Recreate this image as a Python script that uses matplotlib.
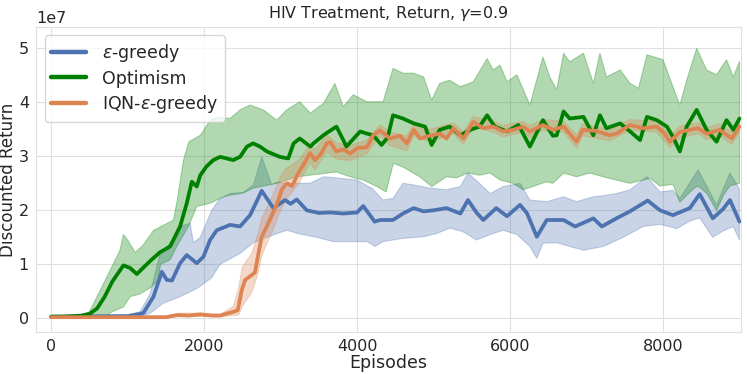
import numpy as np
import matplotlib
matplotlib.use("Agg")
import matplotlib.pyplot as plt
import seaborn as sns

# values are in units of 1e7
eg_x = [0, 1000, 1160, 1207, 1338, 1447, 1512, 1580, 1686, 1773, 1904, 1991, 2078, 2165,
        2340, 2470, 2601, 2753, 2906, 3058, 3130, 3211, 3342, 3500, 3650, 3820, 4000, 4080,
        4230, 4300, 4470, 4600, 4740, 4870, 5000, 5170, 5350, 5450, 5560, 5650, 5820, 5960,
        6130, 6220, 6350, 6480, 6700, 6850, 7090, 7200, 7390, 7567, 7800, 7960, 8130, 8350,
        8480, 8650, 8790, 8875, 9000]
eg_mean = [0.03, 0.04, 0.08, 0.10, 0.40, 0.86, 0.71, 0.70, 1.02, 1.17, 1.02, 1.14, 1.45, 1.63,
           1.73, 1.70, 1.91, 2.36, 2.04, 2.19, 2.12, 2.20, 2.00, 1.95, 1.96, 1.94, 1.96, 2.08,
           1.79, 1.82, 1.82, 1.94, 2.04, 1.98, 2.00, 2.04, 1.94, 2.19, 1.96, 1.82, 2.04, 1.89,
           2.10, 1.95, 1.51, 1.82, 1.82, 1.70, 1.85, 1.70, 1.85, 1.98, 2.18, 2.00, 1.91, 2.04,
           2.30, 1.85, 2.03, 2.19, 1.79]
eg_hi_x = [0, 1000, 1160, 1294, 1425, 1600, 1686, 1817, 1860, 1950, 2100, 2200, 2340, 2510,
           2645, 2754, 2884, 2950, 3100, 3385, 3560, 3730, 4000, 4200, 4340, 4470, 4600, 4740,
           4950, 5170, 5350, 5450, 5600, 5740, 5910, 6130, 6260, 6480, 6700, 6870, 7090, 7220,
           7390, 7570, 7790, 7960, 8130, 8220, 8460, 8700, 8875, 9000]
eg_hi = [0.05, 0.06, 0.12, 0.45, 1.20, 1.45, 1.70, 1.76, 1.40, 1.50, 2.00, 2.20, 2.31, 2.33,
         2.47, 2.99, 2.47, 2.52, 2.50, 2.50, 2.62, 2.60, 2.56, 2.40, 2.19, 2.22, 2.50, 2.47,
         2.41, 2.38, 2.44, 2.69, 2.50, 2.31, 2.44, 2.50, 2.19, 2.16, 2.25, 2.16, 2.25, 2.27,
         2.31, 2.38, 2.62, 2.34, 2.37, 2.22, 2.75, 2.10, 2.69, 2.40]
eg_lo_x = [0, 1000, 1160, 1294, 1468, 1686, 1904, 2100, 2209, 2470, 2645, 2820, 3080, 3254,
           3470, 3690, 3900, 4130, 4235, 4340, 4600, 4870, 5040, 5215, 5390, 5560, 5740, 5910,
           6090, 6260, 6350, 6430, 6610, 6780, 6960, 7220, 7480, 7740, 7960, 8180, 8350, 8480,
           8650, 8790, 8920, 9000]
eg_lo = [0.01, 0.02, 0.04, 0.09, 0.28, 0.40, 0.55, 0.75, 1.00, 1.20, 1.40, 1.50, 1.63, 1.56,
         1.50, 1.42, 1.42, 1.42, 1.33, 1.42, 1.48, 1.51, 1.57, 1.67, 1.60, 1.45, 1.55, 1.63,
         1.55, 1.33, 1.11, 1.39, 1.40, 1.33, 1.26, 1.33, 1.50, 1.70, 1.74, 1.66, 1.80, 1.86,
         1.50, 1.62, 1.70, 1.45]

opt_x = [0, 200, 400, 500, 600, 700, 800, 945, 1033, 1120, 1200, 1294, 1420, 1555, 1686,
         1773, 1839, 1904, 1950, 2030, 2120, 2210, 2380, 2470, 2560, 2640, 2730, 2820, 2990,
         3100, 3170, 3250, 3390, 3430, 3560, 3600, 3730, 3820, 3860, 4040, 4130, 4210, 4320,
         4400, 4470, 4600, 4740, 4890, 4975, 5080, 5210, 5350, 5480, 5600, 5700, 5800, 5960,
         6110, 6260, 6430, 6560, 6610, 6700, 6780, 6960, 7090, 7175, 7260, 7440, 7570, 7700,
         7790, 7920, 8050, 8130, 8220, 8310, 8440, 8570, 8700, 8830, 8920, 9000]
opt_mean = [0.03, 0.03, 0.05, 0.08, 0.18, 0.40, 0.68, 0.98, 0.93, 0.82, 0.93, 1.06, 1.22, 1.33,
            1.70, 2.13, 2.53, 2.44, 2.65, 2.81, 2.93, 2.99, 2.93, 2.99, 3.18, 3.24, 3.18, 3.09,
            2.99, 2.96, 3.24, 3.33, 3.18, 3.24, 3.39, 3.43, 3.55, 3.30, 3.18, 3.46, 3.42, 3.39,
            3.21, 3.35, 3.76, 3.70, 3.61, 3.55, 3.21, 3.49, 3.55, 3.39, 3.49, 3.55, 3.76, 3.55,
            3.46, 3.58, 3.18, 3.67, 3.38, 3.39, 3.83, 3.70, 3.73, 3.39, 3.76, 3.52, 3.61, 3.46,
            3.30, 3.73, 3.67, 3.55, 3.36, 3.09, 3.55, 3.86, 3.49, 3.27, 3.67, 3.49, 3.70]
opt_hi_x = [0, 400, 500, 600, 730, 900, 945, 1000, 1100, 1200, 1340, 1600, 1650, 1730, 1800,
            1950, 2080, 2200, 2340, 2470, 2600, 2775, 2950, 3080, 3250, 3390, 3560, 3710, 3820,
            3950, 4130, 4340, 4470, 4600, 4740, 4870, 4975, 5080, 5210, 5350, 5520, 5700, 5780,
            5870, 5960, 6090, 6260, 6430, 6520, 6610, 6700, 6780, 6960, 7090, 7175, 7260, 7440,
            7570, 7680, 7790, 8000, 8130, 8220, 8310, 8440, 8570, 8700, 8830, 8920, 9000]
opt_hi = [0.05, 0.07, 0.12, 0.40, 0.77, 1.26, 1.55, 1.45, 1.22, 1.35, 1.63, 1.82, 2.20, 2.93,
          3.27, 3.39, 3.67, 3.73, 3.70, 3.86, 3.95, 3.86, 3.67, 3.86, 4.01, 3.80, 3.98, 4.35,
          3.92, 4.14, 4.01, 4.01, 4.63, 4.54, 4.54, 4.47, 4.04, 4.35, 4.41, 4.29, 4.38, 4.81,
          4.60, 4.69, 4.38, 4.51, 3.95, 4.84, 4.47, 4.23, 4.91, 4.75, 4.91, 4.35, 4.91, 4.47,
          4.60, 4.35, 4.26, 4.88, 4.79, 4.29, 3.95, 4.41, 5.00, 4.60, 4.51, 4.79, 4.47, 4.76]
opt_lo_x = [0, 600, 700, 800, 945, 1033, 1160, 1294, 1400, 1430, 1555, 1643, 1795, 1904, 2078,
            2253, 2340, 2510, 2645, 2950, 3210, 3385, 3730, 3910, 4080, 4260, 4380, 4474, 4600,
            4820, 4975, 5170, 5300, 5450, 5600, 5740, 5870, 6040, 6170, 6300, 6480, 6560, 6700,
            6870, 7040, 7220, 7390, 7570, 7740, 7830, 7960, 8130, 8220, 8400, 8460, 8580, 8700,
            8800, 8875, 9000]
opt_lo = [0.01, 0.01, 0.04, 0.12, 0.21, 0.40, 0.45, 0.56, 0.70, 1.00, 1.08, 1.33, 1.70, 2.07,
          2.13, 2.25, 2.28, 2.32, 2.41, 2.50, 2.62, 2.65, 2.71, 2.62, 2.56, 2.44, 2.34, 2.87,
          2.80, 2.62, 2.44, 2.62, 2.60, 2.69, 2.65, 2.69, 2.56, 2.50, 2.38, 2.44, 2.53, 2.50,
          2.69, 2.62, 2.69, 2.62, 2.56, 2.50, 2.56, 2.59, 2.45, 2.48, 2.15, 2.40, 2.45, 2.30,
          2.00, 2.30, 2.45, 2.50]

iqn_x = [0, 1500, 1650, 1800, 1950, 2100, 2209, 2383, 2440, 2492, 2536, 2623, 2665, 2710,
         2753, 2819, 2906, 2971, 3015, 3080, 3150, 3232, 3298, 3385, 3450, 3530, 3603, 3650,
         3730, 3820, 3910, 4000, 4130, 4210, 4300, 4430, 4560, 4650, 4740, 4820, 4950, 5080,
         5170, 5260, 5390, 5520, 5650, 5780, 5910, 6040, 6170, 6260, 6430, 6560, 6700, 6870,
         6950, 7130, 7300, 7390, 7570, 7740, 7920, 8020, 8090, 8220, 8350, 8460, 8570, 8740,
         8900, 9000]
iqn_mean = [0.02, 0.02, 0.06, 0.05, 0.07, 0.05, 0.05, 0.12, 0.15, 0.52, 0.71, 0.80, 0.85, 1.20,
            1.51, 1.70, 1.97, 2.19, 2.38, 2.50, 2.45, 2.69, 2.84, 3.06, 2.93, 3.05, 3.24, 3.26,
            3.09, 3.13, 3.05, 3.15, 3.17, 3.39, 3.48, 3.33, 3.38, 3.24, 3.49, 3.33, 3.38, 3.42,
            3.33, 3.52, 3.33, 3.64, 3.52, 3.55, 3.46, 3.49, 3.55, 3.46, 3.58, 3.49, 3.55, 3.27,
            3.49, 3.47, 3.39, 3.42, 3.58, 3.52, 3.55, 3.42, 3.27, 3.45, 3.49, 3.52, 3.42, 3.49,
            3.33, 3.55]
iqn_band_x = [0, 1500, 1650, 1950, 2209, 2383, 2450, 2500, 2623, 2700, 2753, 2819, 2906, 3015,
              3080, 3232, 3385, 3450, 3603, 3730, 3910, 4130, 4300, 4430, 4650, 4740, 4950, 5260,
              5390, 5520, 5780, 5910, 6170, 6260, 6430, 6700, 6870, 6950, 7300, 7570, 7920, 8090,
              8220, 8460, 8570, 8740, 8900, 9000]
iqn_hi = [0.04, 0.04, 0.09, 0.10, 0.07, 0.22, 0.55, 0.95, 1.20, 1.55, 1.85, 2.05, 2.30, 2.68,
          2.78, 2.92, 3.22, 3.12, 3.40, 3.25, 3.20, 3.30, 3.58, 3.45, 3.38, 3.60, 3.50, 3.62,
          3.45, 3.74, 3.65, 3.57, 3.65, 3.57, 3.68, 3.65, 3.40, 3.60, 3.50, 3.68, 3.65, 3.38,
          3.56, 3.62, 3.53, 3.60, 3.45, 3.65]
iqn_lo = [0.00, 0.00, 0.03, 0.04, 0.03, 0.05, 0.06, 0.22, 0.48, 0.80, 1.15, 1.38, 1.65, 2.05,
          2.22, 2.48, 2.88, 2.75, 3.08, 2.95, 2.92, 3.05, 3.38, 3.20, 3.10, 3.38, 3.26, 3.42,
          3.22, 3.54, 3.45, 3.36, 3.45, 3.35, 3.48, 3.45, 3.15, 3.38, 3.29, 3.48, 3.45, 3.16,
          3.34, 3.42, 3.31, 3.38, 3.22, 3.45]

SCALE = 1e7

sns.set_style("whitegrid", {'grid.color': '.88', 'axes.edgecolor': '.88'})
plt.rcParams['font.family'] = ['DejaVu Sans']

fig = plt.figure(figsize=(7.47, 3.74), dpi=100)
ax = fig.add_axes([0.048, 0.1115, 0.944, 0.817])


def draw(x, mean, hx, hi, lx, lo, color, label):
    # band as one polygon: upper edge forward, lower edge backward
    px = np.concatenate([hx, lx[::-1]])
    py = np.concatenate([hi, lo[::-1]]) * SCALE
    ax.fill(px, py, color=color, alpha=0.3, linewidth=0.8)
    ax.plot(x, np.array(mean) * SCALE, color=color, linewidth=2.7, label=label)


draw(np.array(eg_x), eg_mean, np.array(eg_hi_x), np.array(eg_hi),
     np.array(eg_lo_x), np.array(eg_lo), '#4c72b0', r'$\varepsilon$-greedy')
draw(np.array(opt_x), opt_mean, np.array(opt_hi_x), np.array(opt_hi),
     np.array(opt_lo_x), np.array(opt_lo), 'green', 'Optimism')
draw(np.array(iqn_x), iqn_mean, np.array(iqn_band_x), np.array(iqn_hi),
     np.array(iqn_band_x), np.array(iqn_lo), '#dd8452', r'IQN-$\varepsilon$-greedy')

ax.set_xlim(-200, 9020)
ax.set_ylim(-0.26 * SCALE, 5.4 * SCALE)
ax.set_xticks([0, 2000, 4000, 6000, 8000])
ax.set_yticks(np.arange(0, 6) * SCALE)
ax.tick_params(axis='both', labelsize=11.5, pad=1.5)
ax.yaxis.get_offset_text().set_fontsize(11.5)

ax.set_xlabel('Episodes', fontsize=12.5, labelpad=0)
ax.set_ylabel('Discounted Return', fontsize=12, labelpad=1)
ax.set_title(r'HIV Treatment, Return, $\gamma$=0.9', fontsize=11.5, pad=6)

leg = ax.legend(loc='upper left', fontsize=12.5, handlelength=2.0, borderpad=0.4,
                labelspacing=0.3, handletextpad=0.9, framealpha=0.8)
for line in leg.get_lines():
    line.set_linewidth(3.2)

fig.savefig('out.png', dpi=100)
